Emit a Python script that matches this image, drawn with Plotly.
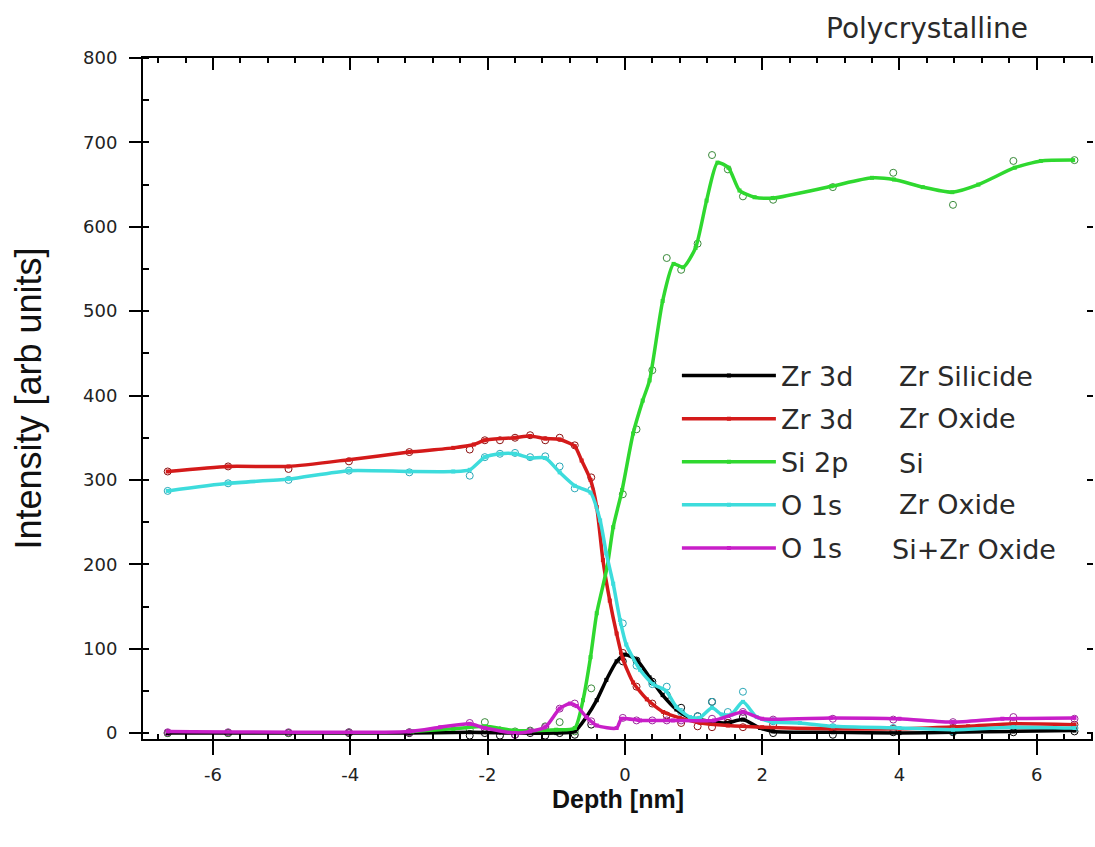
import plotly.graph_objects as go

# ---------------- data ----------------
depth_pts = [-6.66, -5.78, -4.90, -4.02, -3.14, -2.26, -2.04, -1.82, -1.60, -1.38,
             -1.16, -0.95, -0.73, -0.49, -0.03, 0.17, 0.40, 0.61, 0.82, 1.06,
             1.27, 1.50, 1.72, 2.16, 3.03, 3.91, 4.78, 5.66, 6.55]

zr_silicide_pts = [0, 0, 0, 0, 0, -3, 0, -3, -2, 0,
                   -3, 0, -2, 10, 85, 86, 61, 45, 30, 20,
                   37, 12, 19, 0, -2, 1, 1, 1, 2]
zr_oxide_pts = [310, 316, 313, 322, 333, 336, 347, 347, 350, 353,
                347, 350, 341, 303, 95, 55, 35, 21, 12, 8,
                7, 12, 7, 10, 5, 5, 6, 13, 10]
si_pts = [0, 0, 0, 1, 1, 4, 13, 3, 2, 3,
          8, 13, 2, 53, 283, 360, 430, 563, 549, 580,
          685, 668, 636, 632, 647, 664, 626, 678, 679]
o_zr_oxide_pts = [287, 296, 300, 311, 309, 305, 327, 331, 332, 327,
                  328, 316, 290, 288, 130, 80, 58, 55, 25, 20,
                  37, 25, 49, 14, 7, 6, 2, 6, 6]
o_sizr_oxide_pts = [1, 1, 1, 1, 1, 12, 5, 3, -2, 2,
                    7, 29, 35, 14, 18, 15, 15, 15, 15, 15,
                    17, 15, 25, 16, 17, 16, 13, 19, 17]

# smoothed curves
zr_silicide_x = [-6.66, -3.14, -2.26, -1.6, -1.0, -0.73, -0.56, -0.41, -0.27, -0.12, 0.0,
                 0.17, 0.36, 0.55, 0.75, 0.95, 1.24, 1.48, 1.72, 1.97, 2.16, 3.03, 4.0,
                 4.78, 5.66, 6.55]
zr_silicide_y = [0, 0, 1, 0, 0, 2, 19, 39, 63, 85, 93,
                 87, 66, 45, 28, 18, 14, 12, 16, 6, 2, 1, 0,
                 1, 2, 3]

zr_oxide_x = [-6.66, -5.78, -4.9, -4.02, -3.14, -2.5, -2.2, -2.04, -1.6, -1.38, -1.16,
              -0.95, -0.73, -0.63, -0.5, -0.41, -0.32, -0.22, -0.12, -0.03, 0.12, 0.32,
              0.56, 0.8, 1.1, 1.5, 2.0, 3.0, 4.0, 5.0, 5.66, 6.55]
zr_oxide_y = [310, 316, 316, 324, 333, 338, 342, 347, 350, 352, 349,
              348, 340, 323, 300, 268, 205, 157, 118, 88, 60, 40,
              25, 18, 12, 9, 7, 5, 5, 8, 11, 10]

si_x = [-3.1, -2.5, -2.04, -1.6, -1.0, -0.73, -0.61, -0.5, -0.41, -0.26, -0.17,
        -0.04, 0.12, 0.26, 0.36, 0.55, 0.71, 0.85, 1.03, 1.19, 1.35, 1.51, 1.67,
        1.89, 2.16, 3.01, 3.6, 3.92, 4.34, 4.77, 5.15, 5.68, 6.06, 6.53]
si_y = [2, 5, 8, 3, 4, 6, 39, 90, 142, 196, 244,
        288, 355, 394, 418, 512, 556, 552, 575, 631, 676, 670, 643,
        635, 634, 648, 658, 656, 647, 641, 650, 670, 678, 679]

o_zr_oxide_x = [-6.66, -5.78, -4.9, -4.02, -3.14, -2.5, -2.26, -2.04, -1.82, -1.6, -1.38,
                -1.16, -0.95, -0.73, -0.5, -0.36, -0.27, -0.17, -0.07, 0.02, 0.22, 0.41,
                0.6, 0.75, 0.95, 1.09, 1.27, 1.41, 1.55, 1.72, 1.92, 2.16, 2.55, 3.03,
                4.0, 4.78, 5.66, 6.55]
o_zr_oxide_y = [287, 296, 301, 311, 310, 310, 312, 327, 331, 331, 326,
                326, 309, 293, 285, 252, 213, 177, 134, 105, 75, 58,
                50, 31, 19, 18, 30, 22, 22, 37, 19, 13, 12, 8,
                6, 4, 7, 6]

o_sizr_oxide_x = [-6.66, -3.14, -2.69, -2.26, -2.04, -1.6, -1.38, -1.16, -0.95, -0.8, -0.7,
                  -0.56, -0.41, -0.12, -0.05, 0.22, 0.7, 1.3, 1.72, 2.0, 3.0, 4.0, 4.78,
                  5.5, 6.55]
o_sizr_oxide_y = [2, 2, 7, 11, 6, 0, 2, 7, 29, 35, 32,
                  19, 9, 6, 17, 15, 15, 15, 25, 17, 18, 17, 13,
                  17, 18]

x_tick_vals = [-6, -4, -2, 0, 2, 4, 6]
x_tick_text = ["-6", "-4", "-2", "0", "2", "4", "6"]

series = [
    ("Zr 3d", "Zr Silicide", "#000000", "#000000", zr_silicide_x, zr_silicide_y, zr_silicide_pts),
    ("Zr 3d", "Zr Oxide", "#d41a1a", "#8a1010", zr_oxide_x, zr_oxide_y, zr_oxide_pts),
    ("Si 2p", "Si", "#2fd82f", "#3a8a3a", si_x, si_y, si_pts),
    ("O 1s", "Zr Oxide", "#3ddcdc", "#2aa8b8", o_zr_oxide_x, o_zr_oxide_y, o_zr_oxide_pts),
    ("O 1s", "Si+Zr Oxide", "#c81ec8", "#9a2a9a", o_sizr_oxide_x, o_sizr_oxide_y, o_sizr_oxide_pts),
]

x_range = [-7.02, 6.82]
y_range = [-7, 800]

fig = go.Figure()

for i, (core, phase, col, pcol, lx, ly, pts) in enumerate(series):
    fig.add_trace(go.Scatter(
        x=depth_pts, y=pts, mode="markers", showlegend=False,
        marker=dict(symbol="circle-open", size=7, color=pcol, line=dict(width=1)),
        hoverinfo="skip"))
for i, (core, phase, col, pcol, lx, ly, pts) in enumerate(series):
    fig.add_trace(go.Scatter(
        x=lx, y=ly, mode="lines+markers", name=core, legendgroup=f"g{i}",
        line=dict(color=col, width=3.5, shape="spline", smoothing=0.6),
        marker=dict(symbol="square", size=4, color=col)))

# empty trace to anchor the mirrored top/right axes
fig.add_trace(go.Scatter(x=[], y=[], xaxis="x2", yaxis="y2", showlegend=False))

tick_font = dict(family="DejaVu Sans, Liberation Sans, sans-serif", size=18, color="#222")
txt_family = "DejaVu Sans, Liberation Sans, sans-serif"

fig.update_layout(
    width=1095, height=847,
    paper_bgcolor="white", plot_bgcolor="white",
    margin=dict(l=143, r=2, t=58, b=108),
    font=dict(family="Liberation Sans, Arial, sans-serif", color="#111"),
    xaxis=dict(range=x_range, showgrid=False, zeroline=False, showline=True,
               linecolor="black", linewidth=2, ticks="outside", ticklen=14,
               tickwidth=2, tickcolor="black", tickmode="array",
               tickvals=x_tick_vals, ticktext=x_tick_text,
               tickfont=tick_font, ticklabelstandoff=4,
               minor=dict(ticks="inside", ticklen=5, tickwidth=2, dtick=0.4, tick0=0,
                          tickcolor="black"),
               title=dict(text="<b>Depth [nm]</b>", standoff=6,
                          font=dict(family="Liberation Sans, Arial, sans-serif", size=25, color="#111"))),
    yaxis=dict(range=y_range, showgrid=False, zeroline=False, showline=True,
               linecolor="black", linewidth=2, ticks="outside", ticklen=12,
               tickwidth=2, tickcolor="black", dtick=100, tick0=0,
               tickfont=tick_font, ticklabelstandoff=8,
               minor=dict(ticks="inside", ticklen=6, tickwidth=2, dtick=50, tick0=0,
                          tickcolor="black"),
               title=dict(text="Intensity [arb units]", standoff=30,
                          font=dict(family="Liberation Sans, Arial, sans-serif",
                                    size=36, color="#111"))),
    xaxis2=dict(range=x_range, overlaying="x", side="top", anchor="y2", showgrid=False,
                zeroline=False, showline=True, linecolor="black", linewidth=2,
                ticks="inside", ticklen=12, tickwidth=2, tickcolor="black",
                tickmode="array", tickvals=x_tick_vals,
                showticklabels=False,
                minor=dict(ticks="inside", ticklen=5, tickwidth=2, dtick=0.4, tick0=0,
                           tickcolor="black")),
    yaxis2=dict(range=y_range, overlaying="y", side="right", anchor="x2", showgrid=False,
                zeroline=False, showline=False,
                ticks="inside", ticklen=6, tickwidth=2, tickcolor="black", dtick=100, tick0=0,
                showticklabels=False),
    legend=dict(x=0.562, y=0.569, xanchor="left", yanchor="top",
                bgcolor="rgba(0,0,0,0)", itemwidth=94, tracegroupgap=5,
                font=dict(family=txt_family, size=27, color="#2a2a2a")),
    showlegend=True,
)

# second column of the legend
leg_y = [0.533, 0.470, 0.405, 0.344, 0.279]
for (core, phase, *_), yy in zip(series, leg_y):
    fig.add_annotation(x=0.794 if phase != "Si+Zr Oxide" else 0.786, y=yy,
                       xref="paper", yref="paper", xanchor="left", yanchor="middle",
                       text=phase, showarrow=False,
                       font=dict(family=txt_family, size=27, color="#2a2a2a"))

fig.add_annotation(x=0.934, y=1.044, xref="paper", yref="paper", xanchor="right",
                   yanchor="middle", text="Polycrystalline", showarrow=False,
                   font=dict(family=txt_family, size=28, color="#2a2a2a"))

fig.write_html("out.html")
